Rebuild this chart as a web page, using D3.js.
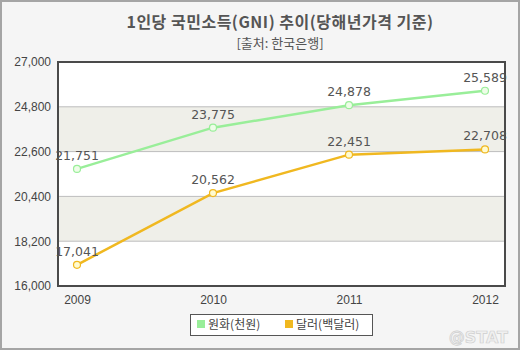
<!DOCTYPE html>
<html><head><meta charset="utf-8">
<script src="https://cdn.jsdelivr.net/npm/d3@7/dist/d3.min.js"></script>
<style>body{margin:0;background:#fff;}svg{display:block;font-family:"Noto Sans CJK KR","DejaVu Sans",sans-serif;}</style>
</head><body><svg id="c" width="520" height="350"></svg>
<script>
const years = ["2009","2010","2011","2012"];
const wonValues = [21751, 23775, 24878, 25589];
const dollarValues = [17041, 20562, 22451, 22708];
const yTicks = [16000, 18200, 20400, 22600, 24800, 27000];
const seriesNames = ["원화(천원)", "달러(백달러)"];
const seriesColors = ["#99ee99", "#f0b820"];
const markerFills = ["#eefde8", "#fffbd0"];
const titleText = "1인당 국민소득(GNI) 추이(당해년가격 기준)";
const subtitleText = "[출처: 한국은행]";

const svg = d3.select("#c");
svg.append("rect").attr("x",1).attr("y",1).attr("width",518).attr("height",348)
  .attr("fill","#f5f5f5").attr("stroke","#a5a5a5").attr("stroke-width",2);

const L=58, R=505, T=62, B=286;
const x = d3.scalePoint().domain(years).range([77, 485]);
const y = d3.scaleLinear().domain([16000,27000]).range([B,T]);

svg.append("rect").attr("x",L).attr("y",T).attr("width",R-L).attr("height",B-T).attr("fill","#ffffff");
for (let i=0;i<yTicks.length-1;i++){
  if (i%2===1){
    svg.append("rect").attr("x",L).attr("width",R-L)
      .attr("y",y(yTicks[i+1])).attr("height",y(yTicks[i])-y(yTicks[i+1]))
      .attr("fill","#efefe9");
  }
}
svg.append("g").selectAll("line").data(yTicks.slice(1,-1)).join("line")
  .attr("x1",L).attr("x2",R).attr("y1",d=>y(d)).attr("y2",d=>y(d))
  .attr("stroke","#bdbdbd").attr("stroke-width",1);

const yAxis = d3.axisLeft(y).tickValues(yTicks).tickSize(0).tickPadding(7).tickFormat(d3.format(","));
const gy = svg.append("g").attr("transform",`translate(${L},0)`).call(yAxis);
gy.select(".domain").remove();
gy.attr("font-size",null);
gy.selectAll("text").attr("fill","#444").style("font-size","12px").style("font-family","'Liberation Sans',Arial,sans-serif");

const xAxis = d3.axisBottom(x).tickSize(0).tickPadding(9);
const gx = svg.append("g").attr("transform",`translate(0,${B})`).call(xAxis);
gx.select(".domain").remove();
gx.attr("font-size",null);
gx.selectAll("text").attr("fill","#444").style("font-size","12px").style("font-family","'Liberation Sans',Arial,sans-serif");

svg.append("rect").attr("x",L).attr("y",T).attr("width",R-L).attr("height",B-T)
  .attr("fill","none").attr("stroke","#4a4a4a").attr("stroke-width",2);

const series = [wonValues, dollarValues];
const line = d3.line().x((d,i)=>x(years[i])).y(d=>y(d));
series.forEach((vals,si)=>{
  svg.append("path").datum(vals).attr("d",line).attr("fill","none")
    .attr("stroke",seriesColors[si]).attr("stroke-width",2.5);
  svg.append("g").selectAll("circle").data(vals).join("circle")
    .attr("cx",(d,i)=>x(years[i])).attr("cy",d=>y(d)).attr("r",3.5)
    .attr("fill",markerFills[si]).attr("stroke",seriesColors[si]).attr("stroke-width",1.2);
  svg.append("g").selectAll("text").data(vals).join("text")
    .attr("x",(d,i)=>x(years[i])).attr("y",d=>y(d)-9)
    .attr("text-anchor","middle").attr("fill","#555")
    .style("font-size","12.5px").style("font-family","'DejaVu Sans',sans-serif")
    .text(d=>d3.format(",")(d));
});

svg.append("text").attr("x",280).attr("y",28).attr("text-anchor","middle")
  .attr("fill","#555").style("font-size","16px").style("font-weight","bold")
  .style("letter-spacing","0.5px").text(titleText);
svg.append("text").attr("x",280).attr("y",48).attr("text-anchor","middle")
  .attr("fill","#555").style("font-size","13px").text(subtitleText);

svg.append("rect").attr("x",190.5).attr("y",314.5).attr("width",182).attr("height",21)
  .attr("fill","#fff").attr("stroke","#555").attr("stroke-width",1);
const legX = [197, 285];
seriesNames.forEach((n,i)=>{
  svg.append("rect").attr("x",legX[i]).attr("y",320).attr("width",8).attr("height",8).attr("fill",seriesColors[i]);
  svg.append("text").attr("x",legX[i]+11).attr("y",329).attr("fill","#444")
    .style("font-size","12px").text(n);
});

svg.append("text").attr("x",508).attr("y",343).attr("text-anchor","end")
  .attr("fill","#f0f0f0").attr("stroke","#cfcfcf").attr("stroke-width",0.7)
  .style("font-size","16px").style("font-weight","bold").style("font-family","'DejaVu Sans',sans-serif").text("@STAT");
</script></body></html>
